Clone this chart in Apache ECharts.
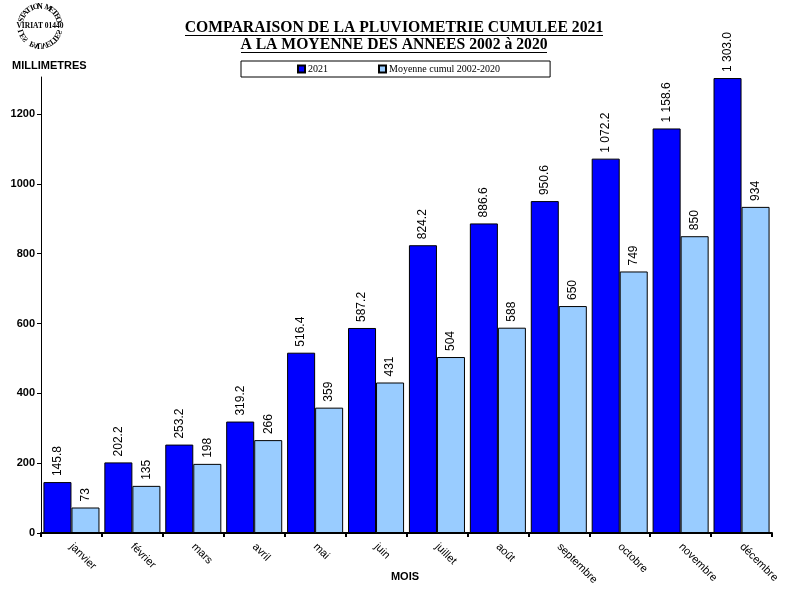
<!DOCTYPE html>
<html><head><meta charset="utf-8">
<script src="https://cdn.jsdelivr.net/npm/echarts@6/dist/echarts.min.js"></script>
<style>html,body{margin:0;padding:0;background:#fff}#c{width:796px;height:600px}</style>
</head><body><div id="c"></div>
<script>
var months = ['janvier','février','mars','avril','mai','juin','juillet','août','septembre','octobre','novembre','décembre'];
var rain2021 = [145.8, 202.2, 253.2, 319.2, 516.4, 587.2, 824.2, 886.6, 950.6, 1072.2, 1158.6, 1303.0];
var avg0220 = [73, 135, 198, 266, 359, 431, 504, 588, 650, 749, 850, 934];
var seriesNames = ['2021', 'Moyenne cumul 2002-2020'];

function fmt1(v){ var s = v.toFixed(1); var p = s.split('.'); var i = p[0].replace(/\B(?=(\d{3})+(?!\d))/g,' '); return i + '.' + p[1]; }
function fmt0(v){ return String(Math.round(v)).replace(/\B(?=(\d{3})+(?!\d))/g,' '); }

var graphics = [];
function arcText(str, cx, cy, r, a0, a1, mirror){
  var n = str.length;
  for (var i=0;i<n;i++){
    var a = a0 + (a1-a0)*(n===1?0.5:i/(n-1));
    var rad = a*Math.PI/180;
    var x = cx + r*Math.cos(rad), y = cy - r*Math.sin(rad);
    var rot = rad - Math.PI/2;
    graphics.push({type:'text', x:x, y:y, rotation:rot, scaleX: mirror ? -1 : 1,
      style:{text:str[i], fontFamily:'Liberation Serif', fontWeight:'bold', fontSize:8, fill:'#000', textAlign:'center', textVerticalAlign:'middle'}});
  }
}
arcText('STATION METEO', 40, 26, 19.5, 162, 18, false);
arcText('LES PAUVETTES', 40, 26, 19.5, 198, 342, true);
graphics.push({type:'text', x:40, y:26, style:{text:'VIRIAT 01440', fontFamily:'Liberation Serif', fontWeight:'bold', fontSize:7.5, fill:'#000', textAlign:'center', textVerticalAlign:'middle'}});
graphics.push({type:'text', x:12, y:66, style:{text:'MILLIMETRES', fontFamily:'Liberation Sans', fontWeight:'bold', fontSize:11, fill:'#000', textVerticalAlign:'middle'}});
graphics.push({type:'text', x:405, y:577, style:{text:'MOIS', fontFamily:'Liberation Sans', fontWeight:'bold', fontSize:11, fill:'#000', textAlign:'center', textVerticalAlign:'middle'}});
graphics.push({type:'text', x:394, y:28, style:{text:'COMPARAISON DE LA PLUVIOMETRIE CUMULEE 2021', fontFamily:'Liberation Serif', fontWeight:'bold', fontSize:15.7, fill:'#000', textAlign:'center', textVerticalAlign:'middle'}});
graphics.push({type:'text', x:394, y:45, style:{text:'A LA MOYENNE DES ANNEES 2002 à 2020', fontFamily:'Liberation Serif', fontWeight:'bold', fontSize:15.7, fill:'#000', textAlign:'center', textVerticalAlign:'middle'}});
graphics.push({type:'line', shape:{x1:185, y1:35.5, x2:603, y2:35.5}, style:{stroke:'#000', lineWidth:1}});
graphics.push({type:'line', shape:{x1:241, y1:52.5, x2:547, y2:52.5}, style:{stroke:'#000', lineWidth:1}});

var chart = echarts.init(document.getElementById('c'));
chart.setOption({
  animation:false,
  backgroundColor:'#fff',
  grid:{left:41, right:24, top:77, bottom:67},
  legend:{
    left:241, top:61, orient:'horizontal',
    padding:[3,50,3,56], itemGap:50, itemWidth:7, itemHeight:7,
    borderColor:'#000', borderWidth:1, backgroundColor:'#fff',
    textStyle:{fontFamily:'Liberation Serif', fontSize:10, color:'#000', padding:[0,0,0,-2]},
    data:seriesNames.map(function(n){return {name:n, icon:'rect'};})
  },
  xAxis:{
    type:'category', data:months,
    axisLine:{lineStyle:{color:'#000', width:2}},
    axisTick:{show:true, length:4, lineStyle:{color:'#000', width:2}},
    axisLabel:{rotate:-45, fontFamily:'Liberation Sans', fontSize:11, color:'#000', margin:12, interval:0}
  },
  yAxis:{
    type:'value', min:0, max:1306, interval:200,
    axisLine:{show:true, lineStyle:{color:'#000', width:1}},
    axisTick:{show:true, length:4, lineStyle:{color:'#000'}},
    splitLine:{show:false},
    axisLabel:{showMaxLabel:false, fontFamily:'Liberation Sans', fontWeight:'bold', fontSize:11, color:'#000', margin:6,
      formatter:function(v){return String(v);}}
  },
  series:[
    {name:seriesNames[0], type:'bar', data:rain2021, barGap:'0%', barCategoryGap:'8%',
     itemStyle:{color:'#0000FF', borderColor:'#000', borderWidth:1},
     label:{show:true, position:'top', rotate:90, align:'left', verticalAlign:'middle', distance:6,
       fontFamily:'Liberation Sans', fontSize:12, color:'#000', formatter:function(p){return fmt1(p.value);}}},
    {name:seriesNames[1], type:'bar', data:avg0220,
     itemStyle:{color:'#99CCFF', borderColor:'#000', borderWidth:1},
     label:{show:true, position:'top', rotate:90, align:'left', verticalAlign:'middle', distance:6,
       fontFamily:'Liberation Sans', fontSize:12, color:'#000', formatter:function(p){return fmt0(p.value);}}}
  ],
  graphic:graphics
});
</script></body></html>
